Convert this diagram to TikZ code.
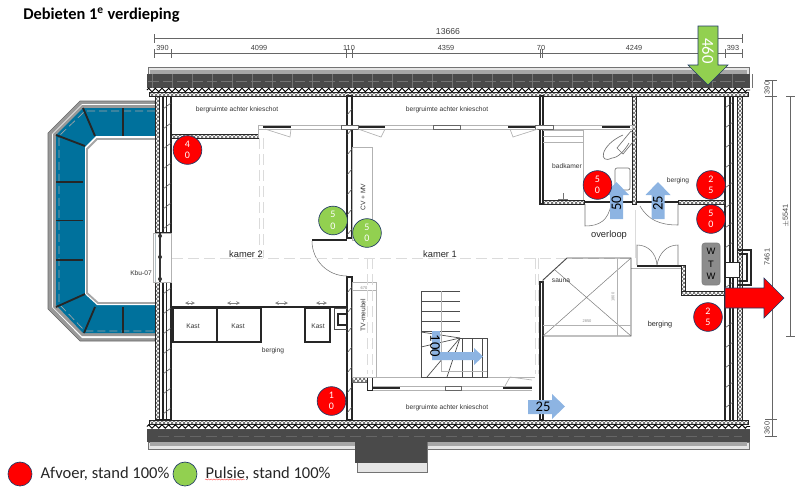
\documentclass[tikz,border=0pt]{standalone}
\usepackage{fontspec}
\setmainfont{Carlito}
\newfontfamily\planfont{Liberation Sans}
\usetikzlibrary{patterns, decorations.pathmorphing}

\definecolor{glasblue}{HTML}{00719C}
\definecolor{rimblue}{HTML}{1F3864}
\definecolor{pulsiegreen}{HTML}{92D050}
\definecolor{flowblue}{HTML}{8DB4E2}
\definecolor{roofgray}{HTML}{4A4A4A}

\begin{document}
\begin{tikzpicture}[x=0.75pt, y=-0.75pt,
    wall/.style={draw=black!85, line width=0.8pt},
    thick wall/.style={draw=black!85, line width=1.4pt},
    pale/.style={draw=black!30, line width=0.5pt},
    dash line/.style={draw=black!14, line width=0.7pt, dash pattern=on 8pt off 4pt},
    dim/.style={draw=black!60, line width=0.4pt},
    hatch/.style={pattern=crosshatch, pattern color=black!65},
    planlabel/.style={font=\planfont\fontsize{5}{6}\selectfont, text=black!80, inner sep=0pt},
    roomlabel/.style={font=\planfont\fontsize{7}{8}\selectfont, text=black!85, inner sep=0pt},
    dimlabel/.style={font=\planfont\fontsize{5.5}{6}\selectfont, text=black!75, inner sep=0pt},
    flowlabel/.style={font=\fontsize{11}{12}\selectfont, text=black, inner sep=0pt},
    legendlabel/.style={font=\fontsize{12.4}{14}\selectfont, text=black!85, anchor=west, inner sep=0pt},
    bubble/.style={circle,
        draw=rimblue,
        line width=0.5pt,
        text=white,
        inner sep=0pt,
        minimum size=21.5pt,
        align=center,
        font=\fontsize{7.5}{8.6}\selectfont},
    afvoer/.style={bubble, fill=red},
    pulsie/.style={bubble, fill=pulsiegreen}]

        \useasboundingbox (0,0) rectangle (800,487);

        % Title.
        \node[font=\bfseries\fontsize{12.3}{14}\selectfont, anchor=west, inner sep=0pt] (title) at (23,15) {Debieten 1\textsuperscript{e} verdieping};

        % Bay window.
        \filldraw[fill=black!40, draw=black!60, line width=0.4pt] (155,101) -- (80,101) -- (48,133) -- (48,309) -- (80,341) -- (155,341) -- cycle;
        \fill[white] (155,104) -- (82,104) -- (52,134) -- (52,307) -- (82,338) -- (155,338) -- cycle;
        \fill[black!40] (155,105) -- (82,105) -- (53,134) -- (53,307) -- (82,336) -- (155,336) -- cycle;
        \fill[glasblue] (155,108) -- (83,108) -- (56,135) -- (56,305) -- (83,333) -- (155,333) -- cycle;
        \fill[white] (155,136) -- (96,136) -- (85,147) -- (85,294) -- (97,305) -- (155,305) -- cycle;
        \draw[black!35, line width=0.5pt, dash pattern=on 6pt off 3pt] (155,111) -- (85,111) -- (59,136) -- (59,304) -- (85,331) -- (155,331);
        \draw[black!35, line width=1.4pt] (155,139) -- (97,139) -- (87,149) -- (87,293) -- (98,303) -- (155,303);
        \foreach \xa/\ya/\xb/\yb in {83/108/95/136, 56/135/85/146, 123/108/123/136, 56/182/83/182, 56/220.5/83/220.5, 56/260/83/260, 56/307/85/294, 84/333/95/307, 123/307/123/333}
        \draw[black!85, line width=1.4pt] (\xa,\ya) -- (\xb,\yb);

        % Roof top.
        \draw[black!55, fill=black!10, line width=0.5pt] (148,67) rectangle (749,74);
        \fill[black!35] (150,70) rectangle (747,74);
        \fill[roofgray] (146.5,74) rectangle (750,88);
        \foreach \x in {152,172,...,752}
        \draw[black!55, line width=0.4pt] (\x,74) -- (\x,88);
        \draw[black!55, line width=0.4pt, dash pattern=on 8pt off 3pt] (148,81) -- (749,81);
        \draw[black, line width=0.7pt, decorate, decoration={zigzag, segment length=5pt, amplitude=1.3pt}] (147,90) -- (750,90);
        \filldraw[hatch, draw=black!85, line width=0.4pt] (149,92) rectangle (748,96);

        % Roof bottom.
        \filldraw[hatch, draw=black!85, line width=0.4pt] (149,420) rectangle (748,424);
        \draw[black, line width=0.7pt, decorate, decoration={zigzag, segment length=5pt, amplitude=1.3pt}] (147,426.5) -- (750,426.5);
        \draw[black!55, fill=black!10, line width=0.5pt] (148,442) rectangle (749,449);
        \fill[black!35] (150,442) rectangle (747,446);
        \draw[black!55, fill=black!10, line width=0.5pt] (357,442) rectangle (427,472);
        \fill[roofgray] (146.5,429) rectangle (750,442);
        \fill[roofgray] (355,442) rectangle (427,463);
        \draw[black!60, line width=0.5pt, dash pattern=on 8pt off 4pt] (158,436) -- (742,436);

        % Outer walls.
        \foreach \xa/\ya/\xb/\yb in {155/96/159/233, 155/282/159/420, 737/96/742/420}
        \filldraw[hatch, draw=black!85, line width=0.5pt] (\xa,\ya) rectangle (\xb,\yb);
        \foreach \ya/\yb in {96/233, 282/420}
        \draw[wall] (163,\ya) -- (163,\yb) (171,\ya) -- (171,\yb) (155,\yb) -- (171,\yb);
        \draw[wall] (166.5,96) -- (166.5,233) (166.5,282) -- (166.5,420);
        \draw[wall] (725,96) -- (725,420) (730,96) -- (730,420) (733,96) -- (733,420);
        \foreach \y in {105,125,...,225}
        \draw[black!70, line width=0.4pt] (163,\y+4) -- (171,\y-2);
        \foreach \y in {290,310,...,410}
        \draw[black!70, line width=0.4pt] (163,\y+4) -- (171,\y-2);
        \foreach \y in {105,125,...,405}
        \draw[black!70, line width=0.4pt] (725,\y+3) -- (733,\y-3);

        % Window in kamer 2.
        \draw[pale] (153,233) rectangle (171,282);
        \draw[black!80, line width=1pt] (160,233) -- (160,282);
        \fill[black!80] (160,257) circle[radius=2];
        \fill[black!80] (160,236) circle[radius=2];
        \fill[black!80] (160,279) circle[radius=2];

        % Inner walls.
        \draw[wall] (347,96) rectangle (352,238) (347,277) rectangle (352,420);
        \foreach \y in {112,132,...,232}
        \draw[black!70, line width=0.4pt] (347,\y+3) -- (352,\y-3);
        \foreach \y in {290,310,...,410}
        \draw[black!70, line width=0.4pt] (347,\y+3) -- (352,\y-3);
        \draw[wall] (540,96) rectangle (543,204) (540,282) rectangle (543,420);
        \filldraw[hatch, draw=black!85, line width=0.5pt] (171,134.5) rectangle (258,138);
        \filldraw[hatch, draw=black!85, line width=0.5pt] (632,96) rectangle (636,204);
        \foreach \xa/\xb in {543/584, 678/725}
        \filldraw[hatch, draw=black!85, line width=0.5pt] (\xa,200) rectangle (\xb,204);
        \foreach \xa/\xb in {584/632, 636/678}
        \draw[thick wall] (\xa,202) -- (\xb,202);
        \filldraw[hatch, draw=black!85, line width=0.5pt] (681,265) rectangle (685,291);
        \filldraw[hatch, draw=black!85, line width=0.5pt] (681,291) rectangle (725,295);
        \draw[thick wall] (637,266) -- (681,266);
        \draw[pale] (631,268) -- (681,268);

        % Window strips.
        \draw[pale] (258,125) rectangle (632,129);
        \draw[pale] (258,129) -- (258,138);
        \foreach \xa/\xb in {263/291, 358/385, 508/535, 602/630}
        \draw[black!85, line width=0.9pt] (\xa,127) -- (\xb,127);
        \foreach \xa/\xb in {341/358, 433/460, 535/553}
        \filldraw[fill=white, draw=black!60, line width=0.4pt] (\xa,125) rectangle (\xb,129);
        \foreach \xa/\xb/\xc in {265/290/291, 358/381/385, 510/513/538}
        \draw[pale] (\xa,129) -- (\xb,137) -- (\xc,129);
        \draw[pale] (352,377) -- (535,377) (372,386) -- (532,386) (372,390) -- (532,390);
        \foreach \xa/\xb in {373/400, 503/532}
        \draw[black!85, line width=0.9pt] (\xa,388) -- (\xb,388);
        \filldraw[fill=white, draw=black!60, line width=0.4pt] (445,386) rectangle (461,390);
        \filldraw[hatch, draw=black!60, line width=0.4pt] (352,377) rectangle (367,382);
        \draw[black!85, line width=0.6pt] (367,377) rectangle (372,390);
        \draw[pale] (505,386) -- (510,377) -- (532,380);

        % Kasten.
        \draw[thick wall] (171,307) -- (347,307);
        \foreach \xa/\xb in {173/217, 217/261, 305/330}
        \draw[wall] (\xa,308) rectangle (\xb,342);
        \foreach \xa/\xb in {185/195, 227/240, 275/288, 316/327}
        \draw[black!50, line width=0.3pt, <->, >=stealth] (\xa,303) -- (\xb,303);
        \draw[wall] (338,314) rectangle (347,325);
        \draw[black!70, line width=0.5pt] (334,308) -- (347,308) (334,308) -- (334,329) -- (347,329);

        % Furniture.
        \draw[pale] (352,147) rectangle (372,240);
        \draw[pale] (352,282) rectangle (376,377);
        \draw[pale] (352,290) -- (376,290);
        \draw[wall] (312,240) -- (347,240);
        \draw[black!55, line width=0.4pt] (312,241) arc[start angle=180, end angle=90, radius=35];

        % Dashed lines.
        \draw[dash line] (172,258) -- (632,258);
        \foreach \x in {259,263}
        \draw[dash line] (\x,138) -- (\x,258);
        \foreach \x in {367,372,535,538}
        \draw[dash line] (\x,258) -- (\x,374);
        \draw[black!14, line width=0.7pt] (635,210) -- (635,258);

        % Badkamer.
        \draw[pale] (583,129) -- (583,200);
        \foreach \y in {130,136,...,145}
        \draw[pale] (543,\y) -- (583,\y);
        \draw[black!55, line width=0.5pt] (631,131) -- (637,137) -- (623,154) -- (617,148) -- cycle;
        \draw[black!55, line width=0.5pt] (623,135) .. controls (600,145) and (598,165) .. (612,158) .. controls (618,158) and (625,150) .. (629,143);
        \draw[black!55, line width=0.5pt, rounded corners=1.5pt] (615,168) rectangle (630,190);
        \draw[black!55, line width=0.5pt] (563,200) -- (563,193) (558,199) -- (568,199);

        % Doors.
        \draw[black!55, line width=0.4pt] (585,204) -- (585,226) .. controls (600,226) and (608,220) .. (611,205);
        \draw[black!55, line width=0.4pt] (678,204) -- (678,225) .. controls (660,225) and (648,220) .. (640,206);
        \draw[black!55, line width=0.4pt] (637,265) -- (637,245) .. controls (648,245) and (656,253) .. (657,265);
        \draw[black!55, line width=0.4pt] (678,265) -- (678,245) .. controls (667,245) and (659,253) .. (657,265);

        % Sauna.
        \draw[black!70, line width=0.7pt] (567,258) -- (631,258) -- (631,336) -- (543,336) -- (543,280) -- cycle;
        \draw[black!50, line width=0.4pt] (543,336) -- (631,258) (555,270) -- (631,336);
        \draw[pale] (543,325) -- (631,325) (617,258) -- (617,336);
        \node[font=\planfont\fontsize{3}{4}\selectfont, text=black!45, inner sep=0pt] (saunab) at (587,321) {2850};
        \node[font=\planfont\fontsize{3}{4}\selectfont, text=black!45, inner sep=0pt, rotate=90] (saunah) at (613,297) {1800};

        % Stairs.
        \draw[black!70, line width=0.5pt] (460,291) -- (421,291) -- (421,377) -- (487,377) -- (487,338) -- (460,338);
        \foreach \y in {301,311,321,331}
        \draw[black!70, line width=0.5pt] (421,\y) -- (460,\y);
        \foreach \xa/\ya/\xb/\yb in {460/338/421/332, 460/338/421/347, 460/338/427/377, 460/338/447/377, 462/338/462/377, 472/338/472/377, 482/338/482/377}
        \draw[black!70, line width=0.5pt] (\xa,\ya) -- (\xb,\yb);
        \draw[pale] (441,291) -- (441,371) -- (487,371);

        % Wtw unit and flue.
        \draw[wall] (737,250) -- (751,250) -- (751,285) -- (737,285);
        \draw[wall] (739,254) -- (747,254) -- (747,281) -- (739,281);
        \filldraw[fill=white, draw=black!85, line width=0.7pt] (725,262) rectangle (739,277);
        \node[draw=black!50, fill=black!45, rounded corners=2pt, minimum width=13.5pt, minimum height=31.5pt, inner sep=0pt, align=center, text=black, font=\planfont\fontsize{7}{9.5}\selectfont] (wtw) at (711,264) {W\\T\\W};

        % Dimension lines.
        \draw[dim] (154.5,38) -- (742,38) (154.5,53.5) -- (742,53.5);
        \foreach \x in {154.5,742}
        \draw[dim] (\x,34) -- (\x,43);
        \foreach \x in {154.5,171,346.5,352,540,542.5,725,742}
        \draw[dim] (\x,49) -- (\x,58);
        \foreach \x/\txt in {162.5/390, 259/4099, 349/110, 446/4359, 541/70, 634/4249, 733/393}
        \node[dimlabel] (dim\txt) at (\x,48) {\txt};
        \node[font=\planfont\fontsize{6.5}{8}\selectfont, text=black!75, inner sep=0pt] (total) at (448,32) {13666};
        \draw[dim] (772,80) -- (772,436);
        \foreach \y in {80,96,419,436}
        \draw[dim] (765,\y) -- (777,\y);
        \draw[dim] (790,96) -- (790,336);
        \foreach \y in {96,336}
        \draw[dim] (786,\y) -- (795,\y);
        \foreach \x/\y/\txt in {767/88/390, 767/257/7461, 767/428/360, 786/216/$\pm$5541}
        \node[dimlabel, rotate=90] (side\y) at (\x,\y) {\txt};

        % Plan labels.
        \foreach \x/\y/\txt in {237/109.5/bergruimte achter knieschot, 447/109.5/bergruimte achter knieschot, 447/408/bergruimte achter knieschot, 141/273/Kbu-07, 193/326/Kast, 238/326/Kast, 318/326/Kast, 273/351/berging, 561/281/sauna, 678/181/berging, 567/166/badkamer}
        \node[planlabel] at (\x,\y) {\txt};
        \node[planlabel, rotate=90] (cvmv) at (363,197) {CV + MV};
        \node[planlabel, rotate=90] (tvmeubel) at (363,315) {TV-meubel};
        \node[font=\planfont\fontsize{3}{4}\selectfont, text=black!50, inner sep=0pt] (tvmaat) at (364,288) {670};
        \node[roomlabel] (kamer2) at (246,254) {kamer 2};
        \node[roomlabel] (kamer1) at (440,254) {kamer 1};
        \node[roomlabel] (overloop) at (609,235) {overloop};
        \node[roomlabel, font=\planfont\fontsize{5.5}{7}\selectfont] (berging) at (660,325) {berging};

        % Flow arrows.
        \filldraw[fill=pulsiegreen, draw=rimblue, line width=0.4pt] (698,26) -- (718,26) -- (718,65) -- (728,65) -- (708,85) -- (688,65) -- (698,65) -- cycle;
        \filldraw[fill=red, draw=rimblue, line width=0.4pt] (725,288) -- (764,288) -- (764,278) -- (784,298) -- (764,318) -- (764,308) -- (725,308) -- cycle;
        \foreach \xm in {616.5,658}
        \fill[flowblue] (\xm-6.5,219) -- (\xm-6.5,195) -- (\xm-12.5,195) -- (\xm,182) -- (\xm+12.5,195) -- (\xm+6.5,195) -- (\xm+6.5,219) -- cycle;
        \fill[flowblue] (432,331) -- (440,331) -- (440,352) -- (474,352) -- (474,348) -- (483,356.5) -- (474,365) -- (474,360) -- (432,360) -- cycle;
        \fill[flowblue] (528,400) -- (552,400) -- (552,394) -- (565,406.5) -- (552,419) -- (552,414) -- (528,414) -- cycle;
        \node[flowlabel, text=white, font=\fontsize{12.5}{14}\selectfont, rotate=-90] (in460) at (708,51) {460};
        \node[flowlabel, rotate=90] (flow50) at (616.5,203) {50};
        \node[flowlabel, rotate=90] (flow25) at (658,203) {25};
        \node[flowlabel, rotate=-90] (flow100) at (435,346) {100};
        \node[flowlabel] (flowuit) at (543,407) {25};

        % Exhaust and supply points.
        \foreach \i/\x/\y/\txt in {a/187.5/150/4\\0, b/597.5/185/5\\0, c/711/185/2\\5, d/711/219/5\\0, e/708/317/2\\5, f/331.5/401/1\\0}
        \node[afvoer] (afvoer\i) at (\x,\y) {\txt};
        \foreach \i/\x/\y/\txt in {a/333/220.5/5\\0, b/367/233/5\\0}
        \node[pulsie] (pulsie\i) at (\x,\y) {\txt};

        % Legend.
        \node[afvoer, minimum size=18pt] (keyred) at (20,474) {};
        \node[pulsie, minimum size=18pt] (keygreen) at (185,474) {};
        \node[legendlabel, right=6pt] (keyredtxt) at (keyred.east) {Afvoer, stand 100\%};
        \node[legendlabel, right=6pt] (keygreentxt) at (keygreen.east) {Pulsie, stand 100\%};
        \draw[red!70, line width=0.3pt, decorate, decoration={snake, segment length=2pt, amplitude=0.4pt}] (205,479.5) -- (245,479.5);
    \end{tikzpicture}
\end{document}
